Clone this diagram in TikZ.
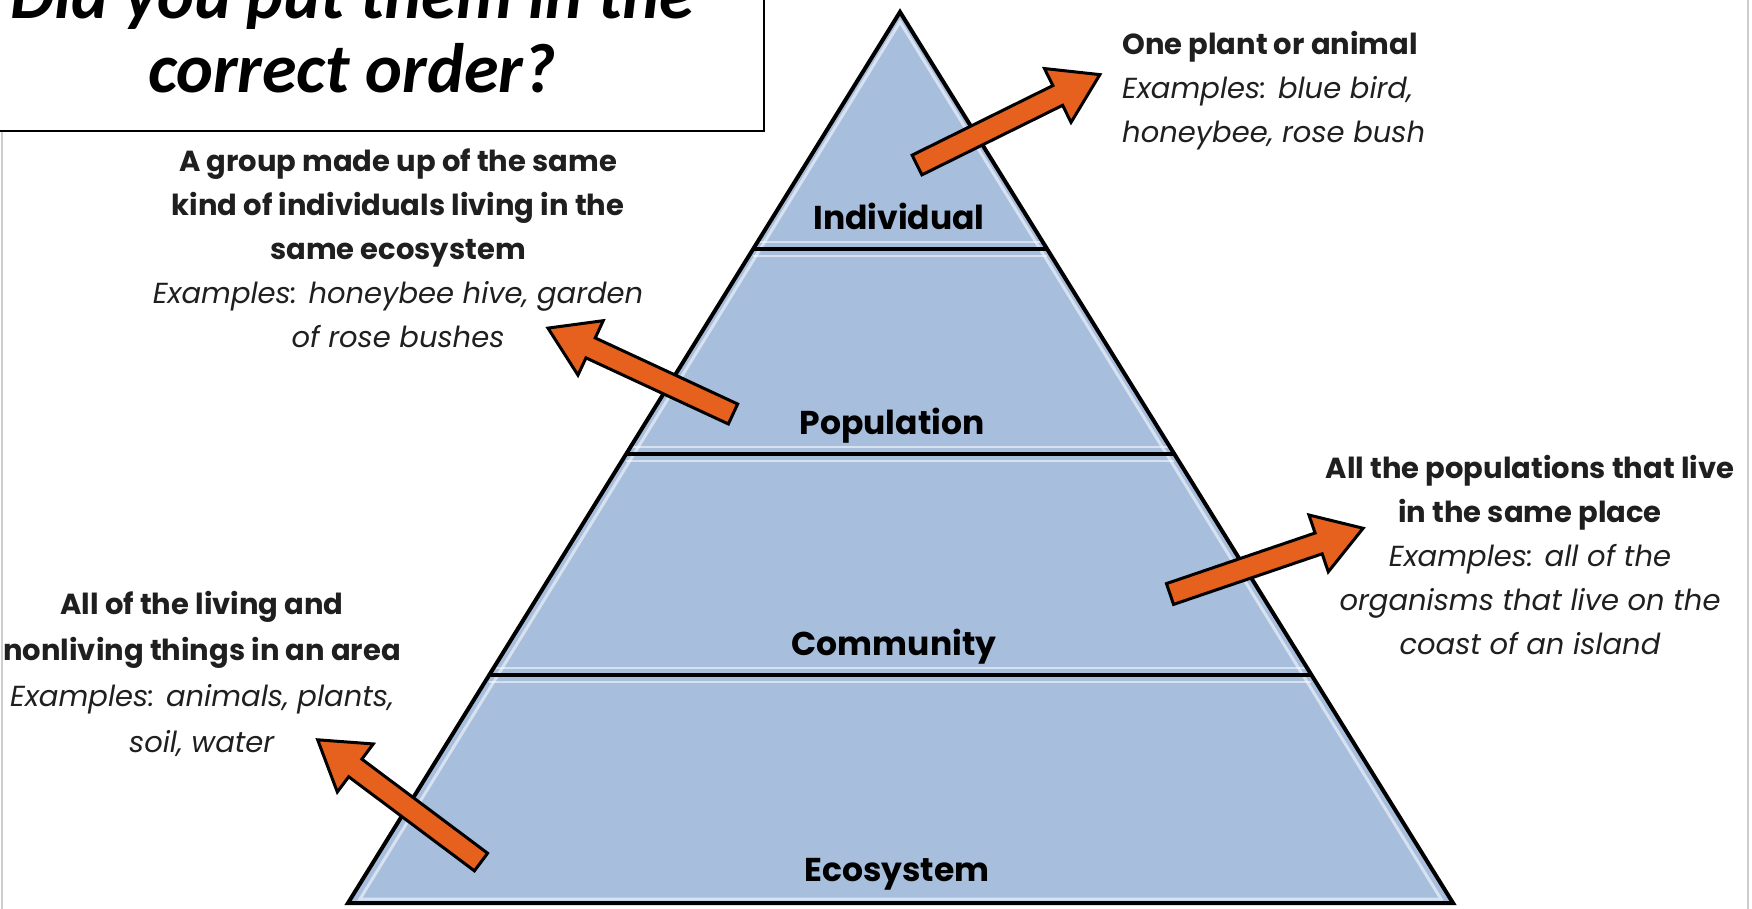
\documentclass[tikz,border=0pt]{standalone}
\usepackage{fontspec}
\setmainfont{Carlito}
\newfontfamily\kidfont{Poppins}
\usetikzlibrary{calc}

\definecolor{pyrblue}{RGB}{167,190,221}
\definecolor{arrorange}{RGB}{230,96,30}
\definecolor{framegray}{RGB}{205,205,205}

\tikzset{
	pointer/.pic={
		\draw[line width=3pt, fill=arrorange, line join=miter]
			(0,-11) -- (157,-11) -- (157,-30) -- (204,0) -- (157,30) -- (157,11) -- (0,11) -- cycle;
	}
}

\begin{document}
\begin{tikzpicture}[
		x=1pt, y=-1pt,
		level/.style={font=\kidfont\bfseries\fontsize{33}{38}\selectfont, inner sep=0pt},
		note/.style={font=\kidfont\fontsize{29}{44}\selectfont, inner sep=0pt, text=black!88},
		divider/.style={line width=4pt},
		glint/.style={white, line width=2pt, opacity=.55}
		]
		\useasboundingbox (0,0) rectangle (1752,909);
		\clip (0,0) rectangle (1752,909);
		\fill[white] (0,0) rectangle (1752,909);
		\draw[framegray, line width=2pt] (2,0) -- (2,909) (1748,0) -- (1748,909);

		% pyramid
		\coordinate (apex) at (900,12);
		\coordinate (baseL) at (348,903);
		\coordinate (baseR) at (1453,903);
		\fill[pyrblue] (apex) -- (baseR) -- (baseL) -- cycle;
		\begin{scope}
			\clip (apex) -- (baseR) -- (baseL) -- cycle;
			\foreach \t in {0.266,0.496,0.744} {
				\draw[glint] ($(apex)!\t!(baseL)+(0,-7)$) -- ($(apex)!\t!(baseR)+(0,-7)$);
				\draw[glint] ($(apex)!\t!(baseL)+(0,7)$) -- ($(apex)!\t!(baseR)+(0,7)$);
			}
			\draw[glint, line width=3pt] ($(apex)+(0,10)$) -- ($(baseR)+(-12,-4)$) -- ($(baseL)+(12,-4)$) -- cycle;
		\end{scope}
		\foreach \t in {0.266,0.496,0.744}
			\draw[divider] ($(apex)!\t!(baseL)$) -- ($(apex)!\t!(baseR)$);
		\draw[line width=4pt, line join=miter] (apex) -- (baseR) -- (baseL) -- cycle;

		\node[level] (indLabel) at (899,216) {Individual};
		\node[level] (popLabel) at (892,426) {Population};
		\node[level] (comLabel) at (894,647) {Community};
		\node[level] (ecoLabel) at (897,874) {Ecosystem};

		% arrows out to the notes
		\coordinate (indFrom) at (917,165);
		\coordinate (popFrom) at (733,414);
		\coordinate (comFrom) at (1170,594);
		\coordinate (ecoFrom) at (481,862);
		\pic[rotate=26.3] at (indFrom) {pointer};
		\pic[rotate=155.1] at (popFrom) {pointer};
		\pic[rotate=18.8] at (comFrom) {pointer};
		\pic[rotate=143.2] at (ecoFrom) {pointer};

		% notes
		\node[note, anchor=west, align=left] (indNote) at (1122,91)
			{\textbf{One plant or animal}\\ \textit{Examples: blue bird,}\\ \textit{honeybee, rose bush}};
		\node[note, align=center] (popNote) at (398,248)
			{\textbf{A group made up of the same}\\ \textbf{kind of individuals living in the}\\ \textbf{same ecosystem}\\
			 \textit{Examples: honeybee hive, garden}\\ \textit{of rose bushes}};
		\node[note, align=center] (comNote) at (1530,555)
			{\textbf{All the populations that live}\\ \textbf{in the same place}\\ \textit{Examples: all of the}\\
			 \textit{organisms that live on the}\\ \textit{coast of an island}};
		\node[note, align=center, font=\kidfont\fontsize{29}{46}\selectfont] (ecoNote) at (202,674)
			{\textbf{All of the living and}\\ \textbf{nonliving things in an area}\\ \textit{Examples: animals, plants,}\\ \textit{soil, water}};

		% question box
		\draw[line width=2.5pt, fill=white] (-10,-10) rectangle (764,131);
		\node[font=\bfseries\itshape\fontsize{70}{73}\selectfont, anchor=base, inner sep=0pt] (askA) at (352,19) {Did you put them in the};
		\node[font=\bfseries\itshape\fontsize{70}{73}\selectfont, anchor=base, inner sep=0pt] (askB) at (352,93) {correct order?};
\end{tikzpicture}
\end{document}
